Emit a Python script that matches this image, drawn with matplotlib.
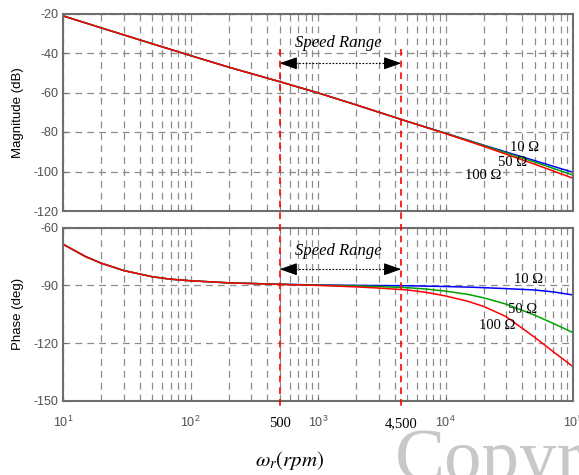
import matplotlib
matplotlib.use('Agg')
import matplotlib.pyplot as plt
import matplotlib.transforms as mtransforms
from matplotlib.lines import Line2D
from matplotlib.ticker import LogLocator, NullFormatter, FixedLocator

# ---- data ----
freq_mag = [10, 20, 50, 100, 200, 500, 1000, 2000, 5000, 10000, 20000, 50000, 100000]
mag_10 = [-21.2, -27.3, -35.3, -41.3, -47.2, -54.5, -60.2, -66.3, -74.6, -80.6, -86.7, -94.5, -100.4]
mag_50 = [-21.2, -27.3, -35.3, -41.3, -47.2, -54.5, -60.2, -66.3, -74.6, -80.7, -86.9, -95.2, -101.8]
mag_100 = [-21.2, -27.3, -35.3, -41.3, -47.2, -54.5, -60.2, -66.3, -74.6, -80.8, -87.3, -96.3, -103.4]

freq_ph = [10, 15, 20, 30, 50, 70, 100, 200, 500, 1000, 2000, 3000, 5000, 7000,
           10000, 15000, 20000, 30000, 50000, 70000, 100000]
ph_10 = [-68.6, -75.0, -78.5, -82.3, -85.5, -86.8, -87.6, -88.7, -89.4, -89.8, -90.0, -90.1, -90.2, -90.4,
         -90.6, -90.9, -91.2, -91.7, -92.4, -93.4, -95.0]
ph_50 = [-68.6, -75.0, -78.5, -82.3, -85.5, -86.8, -87.6, -88.7, -89.4, -89.9, -90.3, -90.6, -91.2, -91.9,
         -93.0, -94.7, -96.5, -99.8, -105.5, -109.8, -114.6]
ph_100 = [-68.6, -75.0, -78.5, -82.3, -85.5, -86.8, -87.6, -88.7, -89.5, -90.0, -90.8, -91.4, -92.4, -93.6,
          -95.5, -98.3, -101.0, -106.3, -117.0, -124.5, -132.3]

speed_lo, speed_hi = 500, 4500
series_labels = ['10 Ω', '50 Ω', '100 Ω']
series_colors = ['#0000ff', '#00a000', '#ff0000']

plt.rcParams['font.family'] = ['Liberation Sans', 'DejaVu Sans']
plt.rcParams['axes.unicode_minus'] = False

fig = plt.figure(figsize=(5.79, 4.75), dpi=100)
ax1 = fig.add_axes([63 / 579, 1 - 211 / 475, 510 / 579, (211 - 13.5) / 475])
ax2 = fig.add_axes([63 / 579, 1 - 400.7 / 475, 510 / 579, (400.7 - 227.7) / 475])

grid_kw = dict(color='#8c8c8c', linestyle=(0, (5.5, 4)), linewidth=0.9)
spine_col = '#6e6e6e'
tick_col = '#505050'

def style_axes(ax, yticks, ylim):
    ax.set_xscale('log')
    ax.set_xlim(10, 1e5)
    ax.set_ylim(*ylim)
    ax.yaxis.set_major_locator(FixedLocator(yticks))
    ax.xaxis.set_major_locator(LogLocator(base=10, numticks=10))
    ax.xaxis.set_minor_locator(LogLocator(base=10, subs=range(2, 10), numticks=50))
    ax.xaxis.set_minor_formatter(NullFormatter())
    ax.grid(True, which='major', axis='both', **grid_kw)
    ax.grid(True, which='minor', axis='x', **grid_kw)
    ax.set_axisbelow(True)
    for s in ax.spines.values():
        s.set_color(spine_col)
        s.set_linewidth(1.5)
    ax.tick_params(which='both', direction='in', colors=spine_col, labelcolor=tick_col,
                   labelsize=9, length=3)
    ax.tick_params(which='minor', length=1.5)

style_axes(ax1, [-20, -40, -60, -80, -100, -120], (-120, -20))
style_axes(ax2, [-60, -90, -120, -150], (-150, -60))
ax1.tick_params(axis='x', labelbottom=False)
ax2.tick_params(axis='x', pad=10)

for vals, c in zip([mag_10, mag_50, mag_100], series_colors):
    ax1.plot(freq_mag, vals, color=c, lw=1.1)
for vals, c in zip([ph_10, ph_50, ph_100], series_colors):
    ax2.plot(freq_ph, vals, color=c, lw=1.1)

ax1.set_ylabel('Magnitude (dB)', fontsize=9.5)
ax2.set_ylabel('Phase (deg)', fontsize=9.5)
ax1.yaxis.set_label_coords(-0.076, 0.5)
ax2.yaxis.set_label_coords(-0.076, 0.5)

serif = ['Liberation Serif', 'DejaVu Serif']

# curve labels
for (x, y), t in zip([(42000, -87.6), (33800, -95.2), (19700, -101.8)], series_labels):
    ax1.text(x, y, t, family=serif, fontsize=10.5, ha='center', va='center')
for (x, y), t in zip([(45200, -87.2), (40000, -102.3), (25300, -111.1)], series_labels):
    ax2.text(x, y, t, family=serif, fontsize=10.5, ha='center', va='center')

# speed range arrows
def speed_range(ax, y_txt, y_arr):
    ax.text(1435, y_txt, 'Speed Range', family=serif, style='italic', fontsize=12,
            ha='center', va='center')
    ax.plot([speed_lo * 1.25, speed_hi / 1.25], [y_arr, y_arr], color='k', lw=0.8,
            linestyle=(0, (1.5, 1.5)))
    for tip, tail in [(speed_lo, speed_lo * 1.3), (speed_hi, speed_hi / 1.3)]:
        ax.annotate('', xy=(tip, y_arr), xytext=(tail, y_arr),
                    arrowprops=dict(arrowstyle='-|>,head_length=10.8,head_width=3.8',
                                    mutation_scale=1, color='k', lw=0.8,
                                    shrinkA=0, shrinkB=0))

speed_range(ax1, -35.1, -45.2)
speed_range(ax2, -72.1, -81.6)

# red dashed lines spanning both panels
trans = mtransforms.blended_transform_factory(ax2.transData, fig.transFigure)
for xv in [speed_lo, speed_hi]:
    fig.add_artist(Line2D([xv, xv], [1 - 49 / 475, 1 - 409 / 475], transform=trans,
                          color='#ff0000', lw=1.2, linestyle=(0, (4, 3))))

# extra tick labels for the speed range
tl = mtransforms.blended_transform_factory(ax2.transData, ax2.transAxes)
for xv, t in [(speed_lo, '500'), (speed_hi, '4,500')]:
    ax2.text(xv, -0.13, t, transform=tl, family=serif, fontsize=10.5,
             ha='center', va='center')

fig.text(290 / 579, 1 - 461 / 475, r'$\omega_r(rpm)$', math_fontfamily='stix',
         fontsize=15, ha='center', va='center')

# watermark
fig.text(395 / 579, 1 - 480 / 475, 'Copyright', family=serif, fontsize=54,
         color='#c8c8c8', ha='left', va='baseline', zorder=-1)

fig.savefig('out.png', dpi=100, facecolor='white')
